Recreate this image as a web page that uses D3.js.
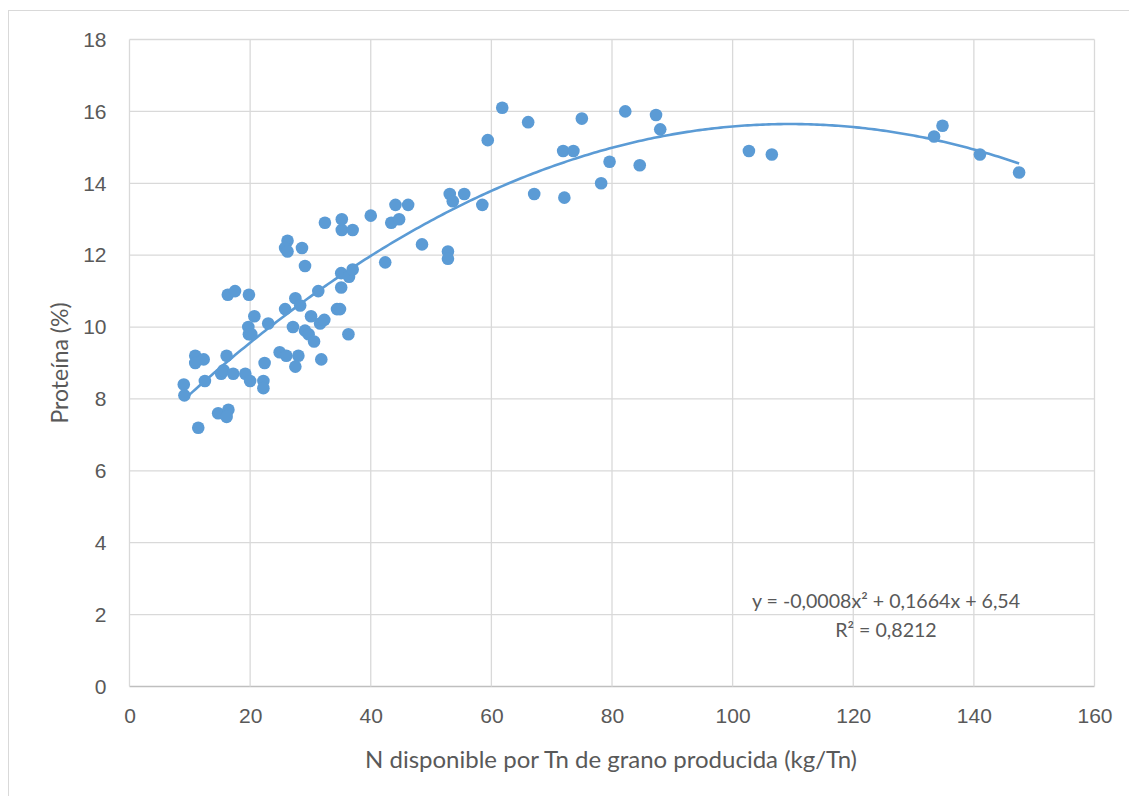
<!DOCTYPE html>
<html>
<head>
<meta charset="utf-8">
<script src="https://cdn.jsdelivr.net/npm/d3@7"></script>
<style>
  html,body{margin:0;padding:0;background:#fff;}
  svg{display:block;font-family:Lato,"Open Sans",sans-serif;}
</style>
</head>
<body>
<div id="chart"></div>
<script>
// N disponible (kg/Tn) and protein (%)
const nDisp = [9.0,9.1,11.4,10.9,10.9,12.3,12.5,14.7,16.4,16.1,15.2,15.6,16.1,17.2,19.2,20.0,
  16.3,17.5,19.8,19.7,19.8,20.2,20.7,22.4,22.2,22.2,23.0,24.9,26.0,25.8,26.2,25.8,26.2,28.6,29.1,
  27.1,27.5,28.3,28.0,27.5,30.1,29.1,29.7,30.6,31.3,31.8,31.6,32.3,34.4,34.9,35.1,36.4,37.0,35.1,
  36.3,42.4,32.4,35.2,37.0,35.2,43.4,44.7,44.1,46.2,40.0,48.5,52.8,52.8,53.1,53.6,55.5,58.5,59.4,
  61.8,66.1,67.1,72.1,71.9,73.6,75.0,78.2,79.6,82.2,84.6,87.3,88.0,102.7,106.5,133.4,134.8,141.0,147.5];
const proteina = [8.4,8.1,7.2,9.2,9.0,9.1,8.5,7.6,7.7,7.5,8.7,8.8,9.2,8.7,8.7,8.5,
  10.9,11.0,10.9,10.0,9.8,9.8,10.3,9.0,8.5,8.3,10.1,9.3,9.2,10.5,12.4,12.2,12.1,12.2,11.7,
  10.0,10.8,10.6,9.2,8.9,10.3,9.9,9.8,9.6,11.0,9.1,10.1,10.2,10.5,10.5,11.5,11.4,11.6,11.1,
  9.8,11.8,12.9,12.7,12.7,13.0,12.9,13.0,13.4,13.4,13.1,12.3,12.1,11.9,13.7,13.5,13.7,13.4,15.2,
  16.1,15.7,13.7,13.6,14.9,14.9,15.8,14.0,14.6,16.0,14.5,15.9,15.5,14.9,14.8,15.3,15.6,14.8,14.3];

const xTicks = [0,20,40,60,80,100,120,140,160];
const yTicks = [0,2,4,6,8,10,12,14,16,18];
// polynomial trend (a, b, c) as drawn
const trendCoef = [-0.00076, 0.1664, 6.54];
const eqLines = ["y = -0,0008x² + 0,1664x + 6,54", "R² = 0,8212"];

const W = 1129, H = 796;
const blue = "#5B9BD5", txt = "#595959", grid = "#D9D9D9";

const svg = d3.select("#chart").append("svg").attr("width", W).attr("height", H);

// chart frame
svg.append("rect").attr("x", 8.5).attr("y", 10.5).attr("width", 1130).attr("height", 800)
  .attr("fill", "none").attr("stroke", "#D9D9D9");

let x = d3.scaleLinear().domain([0,160]).range([129.5,1094.5]);
let y = d3.scaleLinear().domain([0,18]).range([686.5,39.5]);

// gridlines
svg.append("g").selectAll("line").data(yTicks).enter().append("line")
  .attr("x1", x(0)).attr("x2", x(160))
  .attr("y1", d=>y(d)).attr("y2", d=>y(d))
  .attr("stroke", d=> d===0 ? "#BFBFBF" : grid).attr("stroke-width", 1.3);
svg.append("g").selectAll("line").data(xTicks).enter().append("line")
  .attr("y1", y(0)).attr("y2", y(18))
  .attr("x1", d=>x(d)).attr("x2", d=>x(d))
  .attr("stroke", grid).attr("stroke-width", 1.3);

// axes (labels only)
let xAxis = d3.axisBottom(x).tickValues(xTicks).tickSize(0).tickPadding(22);
let yAxis = d3.axisLeft(y).tickValues(yTicks).tickSize(0).tickPadding(23);
svg.append("g").attr("transform", `translate(0,${y(0)})`).call(xAxis)
  .call(g=>g.select(".domain").remove())
  .selectAll("text").attr("fill", txt).style("font-size", "21px");
svg.append("g").attr("transform", `translate(${x(0)},0)`).call(yAxis)
  .call(g=>g.select(".domain").remove())
  .selectAll("text").attr("fill", txt).style("font-size", "21px");

// trend line
const xs = d3.range(d3.min(nDisp), d3.max(nDisp) + 0.01, 0.5);
const curve = d3.line()
  .x(d=>x(d))
  .y(d=>y(trendCoef[0]*d*d + trendCoef[1]*d + trendCoef[2]));
svg.append("path").datum(xs).attr("d", curve)
  .attr("fill", "none").attr("stroke", blue).attr("stroke-width", 2.6);

// points
svg.append("g").selectAll("circle").data(nDisp).enter().append("circle")
  .attr("cx", d=>x(d))
  .attr("cy", (d,i)=>y(proteina[i]))
  .attr("r", 6.3)
  .attr("fill", blue);

// equation
svg.append("g").selectAll("text").data(eqLines).enter().append("text")
  .attr("x", 886).attr("y", (d,i)=>608 + i*29)
  .attr("text-anchor", "middle").attr("fill", txt)
  .style("font-size", "19.6px").text(d=>d);

// axis titles
svg.append("text").attr("x", 611).attr("y", 768).attr("text-anchor", "middle")
  .attr("fill", txt).style("font-size", "24px")
  .text("N disponible por Tn de grano producida (kg/Tn)");
svg.append("text").attr("transform", "translate(68,363) rotate(-90)")
  .attr("text-anchor", "middle").attr("fill", txt).style("font-size", "23px")
  .text("Proteína (%)");
</script>
</body>
</html>
